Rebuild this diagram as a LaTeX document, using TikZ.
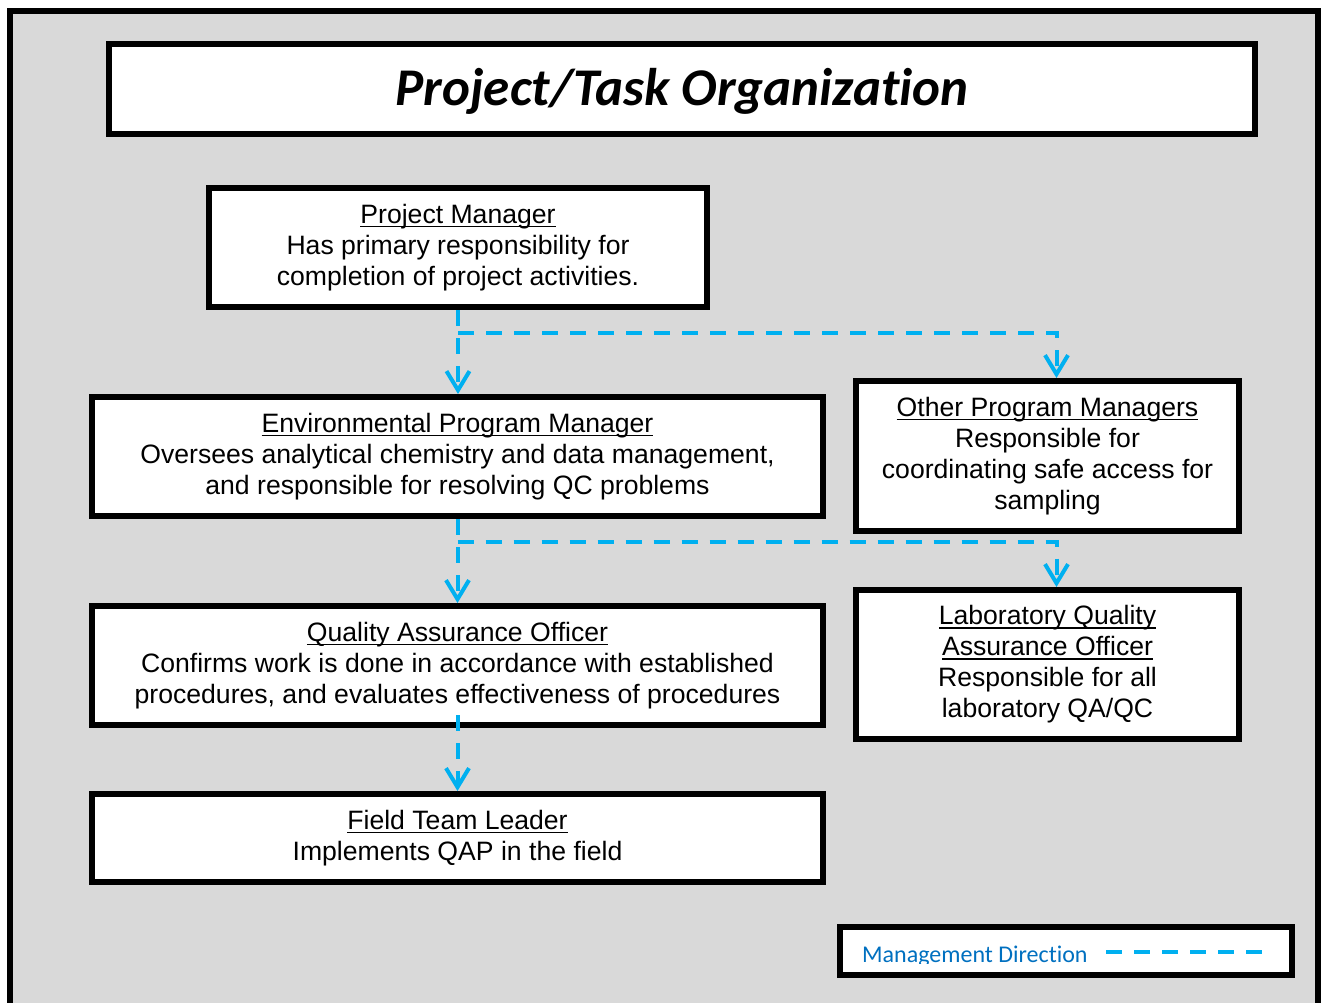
\documentclass[tikz,border=0pt]{standalone}
\usepackage{fontspec}
\setmainfont{Liberation Sans}
\newfontfamily\calibri[Ligatures=NoCommon]{Carlito}
\usetikzlibrary{arrows.meta}
\definecolor{mgmtblue}{HTML}{00B0F0}
\definecolor{legendblue}{HTML}{0070C0}
\definecolor{panelgray}{HTML}{D9D9D9}
\newcommand\headline[1]{\setbox0\hbox{#1}\rlap{\rule[-4pt]{\wd0}{1.8pt}}\box0}
\tikzset{
  box/.style={shape=rectangle, draw=black, fill=white, line width=6pt, align=center, inner sep=0pt, font=\fontsize{26.6}{31}\selectfont},
  mgmt/.style={draw=mgmtblue, line width=4pt, dash pattern=on 16pt off 12pt, -{Straight Barb[length=19pt,width=23pt]}},
}
\begin{document}
\begin{tikzpicture}[x=1pt,y=-1pt]
\clip (0,0) rectangle (1322,1003);
\draw [line width=6pt, fill=panelgray] (9.5,11.5) rectangle (1317.5,1040);
\node [box, minimum width=1146pt, minimum height=90pt] (title) at (682,89) {};
\node [anchor=base, inner sep=0pt, font=\calibri\bfseries\itshape\fontsize{53}{60}\selectfont] (titletext) at (682,106) {Project/Task Organization};
\node [box, minimum width=498pt, minimum height=119pt] (pm) at (458,247.5) {\headline{Project Manager}\\Has primary responsibility for\\completion of project activities.};
\node [box, minimum width=731pt, minimum height=119pt] (epm) at (457.5,456.5) {\headline{Environmental Program Manager}\\Oversees analytical chemistry and data management,\\and responsible for resolving QC problems};
\node [box, minimum width=383pt, minimum height=150pt] (opm) at (1047.5,456) {\headline{Other Program Managers}\\Responsible for\\coordinating safe access for\\sampling};
\node [box, minimum width=731pt, minimum height=119pt] (qao) at (457.5,665.5) {\headline{Quality Assurance Officer}\\Confirms work is done in accordance with established\\procedures, and evaluates effectiveness of procedures};
\node [box, minimum width=383pt, minimum height=149pt] (lqao) at (1047.5,664.5) {\headline{Laboratory Quality}\\\headline{Assurance Officer}\\Responsible for all\\laboratory QA/QC};
\node [box, minimum width=731pt, minimum height=88pt] (ftl) at (457.5,838) {\headline{Field Team Leader}\\Implements QAP in the field};
\node [box, minimum width=452pt, minimum height=48pt] (legend) at (1066,951) {};
\begin{scope}
\clip (850,935) rectangle (1100,963);
\node [anchor=base west, inner sep=0pt, text=legendblue, font=\calibri\fontsize{24}{28}\selectfont] (legendtext) at (862,962) {Management Direction};
\end{scope}
\coordinate (legenda) at (1106,951.5);
\coordinate (legendb) at (1262,951.5);
\draw [draw=mgmtblue, line width=4pt, dash pattern=on 16pt off 12pt] (legenda) -- (legendb);
\coordinate (pmsplit) at (pm.south |- 0,332.5);
\coordinate (epmsplit) at (epm.south |- 0,541.7);
\draw [mgmt] (pm.south) -- (pm.south |- epm.north);
\draw [mgmt] (pmsplit) -| ([xshift=9pt]opm.north);
\draw [mgmt] (epm.south) -- (epm.south |- qao.north);
\draw [mgmt] (epmsplit) -| ([xshift=9pt]lqao.north);
\draw [mgmt] ([yshift=13pt]qao.south) -- (qao.south |- ftl.north);
\end{tikzpicture}
\end{document}
